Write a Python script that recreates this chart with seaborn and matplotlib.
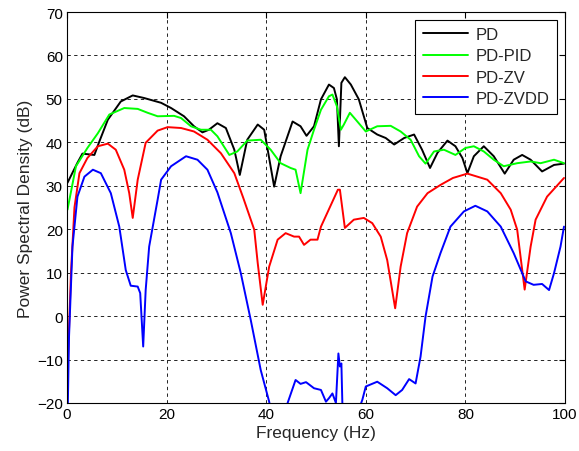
import numpy as np
import pandas as pd
import seaborn as sns
import matplotlib as mpl
import matplotlib.pyplot as plt

# Configure seaborn style
sns.set_style("white")
plt.rcParams['font.family'] = ['Liberation Sans', 'DejaVu Sans']

# -------------------------
# data
# -------------------------
pd_freq = [0.1, 2.1, 3.1, 5.5, 6.4, 8.2, 10.8, 13.2, 15.5, 18.9, 20.9, 23.5, 25.5,
           27.2, 28.5, 30.2, 31.9, 33.6, 34.7, 36.2, 38.3, 39.6, 41.6, 42.9, 45.3,
           46.9, 48.1, 49.6, 51.0, 52.6, 53.6, 54.2, 54.6, 55.1, 55.8, 57.0, 58.6,
           60.3, 62.3, 64.0, 65.7, 67.7, 69.7, 71.3, 72.9, 74.4, 76.4, 78.0, 79.4,
           80.4, 81.7, 83.7, 85.7, 87.9, 89.7, 91.4, 93.1, 95.4, 97.8, 99.8]
pd_psd = [30.7, 35.3, 37.4, 37.1, 39.9, 45.2, 49.4, 50.8, 50.2, 49.1, 47.9, 46.0, 43.7,
          42.3, 42.9, 44.4, 43.3, 38.3, 32.5, 40.6, 44.1, 42.9, 29.8, 36.8, 44.8,
          43.7, 41.5, 43.7, 49.9, 53.3, 52.5, 49.9, 39.1, 53.7, 55.0, 53.3, 49.9,
          43.3, 41.8, 41.0, 39.5, 41.0, 41.8, 38.3, 34.1, 37.6, 40.4, 39.1, 36.4,
          32.9, 36.8, 39.1, 36.8, 32.8, 36.0, 37.1, 36.0, 33.3, 34.8, 35.1]

pid_freq = [0.1, 1.8, 4.1, 6.2, 8.5, 11.5, 14.2, 16.2, 18.2, 21.5, 22.9, 24.9, 26.9,
            28.9, 30.2, 32.6, 34.2, 36.2, 38.9, 40.9, 42.9, 44.9, 45.9, 46.9, 48.3,
            49.6, 51.0, 52.6, 53.3, 54.2, 55.0, 55.6, 56.8, 58.0, 60.0, 62.3, 65.0,
            67.0, 69.0, 70.7, 72.0, 73.7, 75.7, 78.0, 80.0, 81.7, 83.7, 85.7, 87.7,
            90.4, 93.1, 95.1, 97.8, 99.8]
pid_psd = [24.5, 34.5, 38.7, 42.1, 46.4, 47.9, 47.7, 46.8, 46.0, 46.1, 45.6, 43.7, 42.9,
           42.9, 41.4, 37.1, 37.9, 40.4, 40.6, 38.3, 35.2, 34.1, 33.7, 28.3, 38.3,
           42.9, 47.5, 50.6, 51.0, 48.3, 42.9, 44.1, 46.8, 45.2, 42.5, 43.7, 43.8,
           42.5, 40.6, 36.8, 35.1, 37.9, 38.3, 37.1, 38.7, 39.1, 37.9, 36.0, 34.5,
           35.2, 35.6, 35.2, 36.0, 35.2]

zv_freq = [0.1, 0.8, 1.5, 2.5, 4.1, 6.2, 8.2, 9.8, 11.5, 12.5, 13.2, 14.2, 15.8, 18.2,
           20.2, 22.9, 25.5, 28.2, 30.9, 33.6, 35.4, 37.6, 38.3, 39.3, 40.6, 42.3,
           43.9, 45.6, 46.6, 47.6, 48.9, 50.3, 51.0, 53.0, 54.4, 54.8, 55.8, 57.6,
           59.6, 61.3, 63.0, 64.3, 65.9, 67.0, 68.3, 70.3, 72.4, 75.0, 77.5, 80.4,
           84.4, 87.1, 89.1, 90.4, 91.9, 93.1, 94.1, 96.4, 99.8]
zv_psd = [-13.2, 10.0, 25.0, 32.9, 36.4, 39.1, 39.7, 38.3, 33.7, 28.3, 22.6, 31.4, 39.9,
          42.7, 43.5, 43.3, 42.5, 40.6, 37.5, 32.9, 27.2, 19.9, 12.2, 2.6, 11.4, 17.6,
          19.1, 18.3, 18.3, 16.4, 17.6, 17.6, 20.6, 25.6, 29.1, 29.1, 20.3, 22.2,
          22.6, 21.4, 18.3, 12.9, 1.8, 11.4, 19.1, 25.2, 28.3, 30.2, 31.8, 32.8,
          31.4, 28.3, 24.5, 19.9, 6.1, 16.0, 22.2, 27.5, 31.8]

zvdd_freq = [0.1, 0.4, 1.1, 2.1, 3.5, 5.2, 6.8, 8.8, 10.5, 11.8, 12.8, 14.2, 14.7, 15.3,
             15.8, 16.5, 18.2, 18.9, 20.9, 23.9, 26.2, 28.2, 30.2, 32.9, 34.9, 36.9,
             38.9, 40.6, 41.5, 43.5, 44.3, 45.9, 46.9, 48.0, 49.6, 51.0, 52.0, 52.6,
             53.3, 54.0, 54.5, 54.8, 55.1, 55.4, 57.5, 59.3, 60.0, 62.3, 64.3, 66.0,
             67.3, 68.7, 70.0, 71.0, 72.0, 73.4, 75.0, 77.0, 79.7, 82.0, 84.4, 87.1,
             89.7, 92.1, 93.7, 95.4, 96.8, 97.8, 99.1, 99.8]
zvdd_psd = [-25.0, -5.0, 16.0, 27.5, 32.1, 33.7, 32.9, 28.3, 20.6, 10.6, 7.0, 6.8, 5.3,
            -7.0, 6.0, 16.0, 26.8, 31.4, 34.5, 36.8, 36.0, 33.7, 28.5, 19.1, 9.9,
            -0.9, -12.4, -19.7, -25.0, -25.0, -20.0, -14.7, -15.6, -15.2, -16.6, -17.0,
            -19.7, -18.9, -17.8, -20.0, -8.6, -11.6, -10.9, -25.0, -25.0, -19.3,
            -16.2, -15.1, -16.6, -18.2, -17.0, -14.5, -15.5, -9.3, -0.1, 9.1, 14.5,
            20.6, 24.1, 25.4, 24.1, 20.6, 14.5, 8.0, 7.2, 7.4, 6.0, 9.9, 16.0, 20.6]

series_names = ['PD', 'PD-PID', 'PD-ZV', 'PD-ZVDD']
series_colors = ['#000000', '#00ff00', '#ff0000', '#0000ff']

# Long-form table
frames = []
for name, fx, fy in zip(series_names,
                        [pd_freq, pid_freq, zv_freq, zvdd_freq],
                        [pd_psd, pid_psd, zv_psd, zvdd_psd]):
    frames.append(pd.DataFrame({'freq': fx, 'psd': fy, 'series': name}))
data = pd.concat(frames, ignore_index=True)

# ---------------------------------------
# plot
# ---------------------------------------
fig = plt.figure(figsize=(5.79, 4.52), dpi=100)
ax = fig.add_axes([0.1157, 0.1062, 0.8601, 0.8650])

sns.lineplot(data=data, x='freq', y='psd', hue='series', hue_order=series_names,
             palette=series_colors, estimator=None, linewidth=1.4, ax=ax)

ax.set_xlim(0, 100)
ax.set_ylim(-20, 70)
ax.set_xticks(np.arange(0, 101, 20))
ax.set_yticks(np.arange(-20, 71, 10))
ax.set_xlabel('Frequency (Hz)', fontsize=12.5, labelpad=3)
ax.set_ylabel('Power Spectral Density (dB)', fontsize=12.5, labelpad=3)
ax.tick_params(direction='in', top=True, right=True, labelsize=11, length=4,
               width=0.8, colors='black', pad=3)

# MATLAB-like dashed grid
ax.grid(True, color='black', linestyle=(0, (4, 4)), linewidth=0.6)
for s in ax.spines.values():
    s.set_color('black')
    s.set_linewidth(0.8)

leg = ax.legend(loc='upper right', fontsize=12, handlelength=2.7,
                handletextpad=0.5, frameon=True, fancybox=False, framealpha=1,
                edgecolor='black', borderaxespad=0.45, labelspacing=0.38,
                borderpad=0.45)
leg.get_frame().set_linewidth(0.8)

fig.savefig('out.png', dpi=100)
